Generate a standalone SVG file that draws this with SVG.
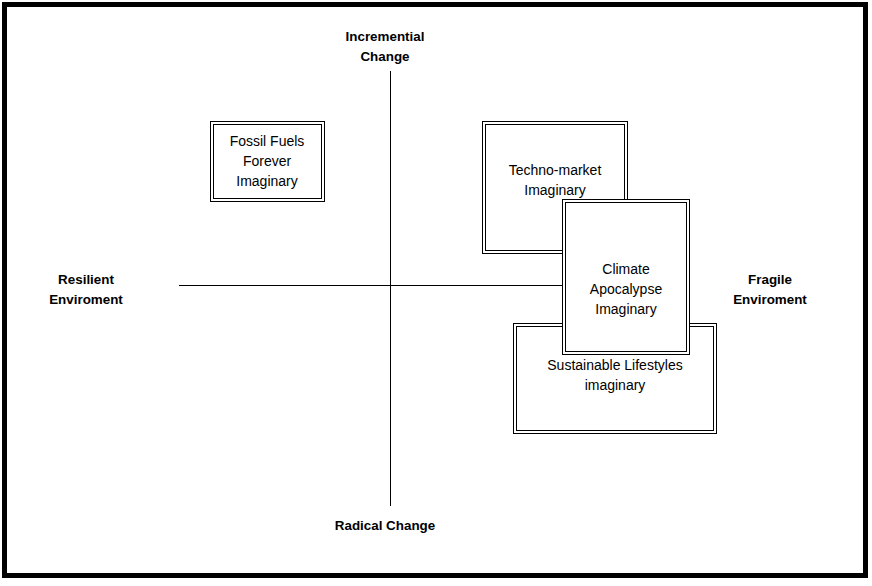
<svg xmlns="http://www.w3.org/2000/svg" width="872" height="586" viewBox="0 0 872 586">
<style>
.o{fill:#fff;stroke:#000;stroke-width:1}
.i{fill:none;stroke:#000;stroke-width:1}
.t{font-family:"Liberation Sans",Arial,sans-serif;font-size:14px;fill:#000;text-anchor:middle}
.b{font-family:"Liberation Sans",Arial,sans-serif;font-size:13.4px;font-weight:bold;fill:#000;text-anchor:middle}
.ax{stroke:#000;stroke-width:1;fill:none}
</style>
<rect x="0" y="0" width="872" height="586" fill="#fff"/>
<rect x="4.5" y="4.5" width="861" height="571" fill="#fff" stroke="#000" stroke-width="5"/>
<g id="axes">
<line class="ax" x1="179" y1="285.5" x2="600" y2="285.5"/>
<line class="ax" x1="390.5" y1="71" x2="390.5" y2="506"/>
</g>
<g id="label-incremental">
<text class="b" x="385" y="41">Incremential</text>
<text class="b" x="385" y="61">Change</text>
</g>
<g id="label-radical">
<text class="b" x="385" y="530">Radical Change</text>
</g>
<g id="label-resilient">
<text class="b" x="86" y="284">Resilient</text>
<text class="b" x="86" y="304">Enviroment</text>
</g>
<g id="label-fragile">
<text class="b" x="770" y="284">Fragile</text>
<text class="b" x="770" y="304">Enviroment</text>
</g>
<g id="fossil">
<rect class="o" x="210.5" y="121.5" width="114" height="80"/>
<rect class="i" x="213.5" y="124.5" width="108" height="74"/>
<text class="t" x="267" y="146">Fossil Fuels</text>
<text class="t" x="267" y="166">Forever</text>
<text class="t" x="267" y="186">Imaginary</text>
</g>
<g id="techno">
<rect class="o" x="482.5" y="121.5" width="145" height="132"/>
<rect class="i" x="485.5" y="124.5" width="139" height="126"/>
<text class="t" x="555" y="175">Techno-market</text>
<text class="t" x="555" y="195">Imaginary</text>
</g>
<g id="sustainable">
<rect class="o" x="513.5" y="323.5" width="203" height="110"/>
<rect class="i" x="516.5" y="326.5" width="197" height="104"/>
<text class="t" x="615" y="370">Sustainable Lifestyles</text>
<text class="t" x="615" y="390">imaginary</text>
</g>
<g id="climate">
<rect class="o" x="562.5" y="199.5" width="127" height="155"/>
<rect class="i" x="565.5" y="202.5" width="121" height="149"/>
<text class="t" x="626" y="274">Climate</text>
<text class="t" x="626" y="294">Apocalypse</text>
<text class="t" x="626" y="314">Imaginary</text>
</g>
</svg>
